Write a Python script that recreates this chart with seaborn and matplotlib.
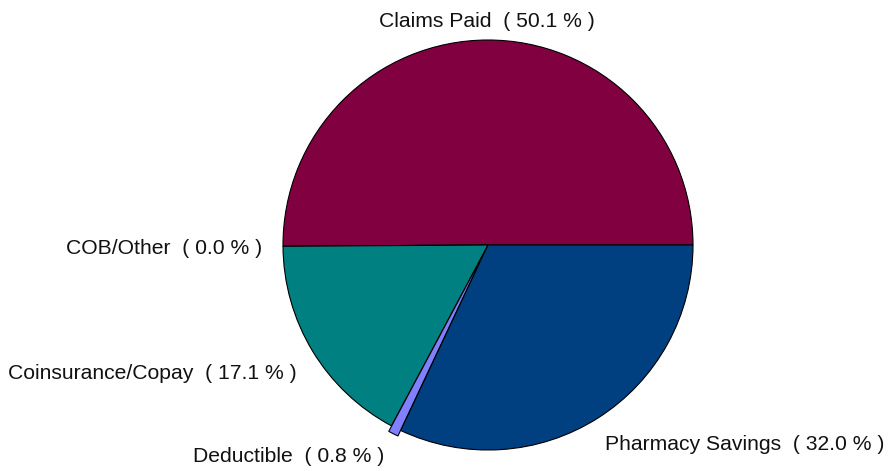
import matplotlib
matplotlib.use("Agg")
import matplotlib.pyplot as plt
import seaborn as sns

sns.set_theme(style="white")
plt.rcParams['font.family'] = ['Liberation Sans', 'DejaVu Sans']

# wedge data, counterclockwise from 3 o'clock
categories = ['Claims Paid', 'COB/Other', 'Coinsurance/Copay', 'Deductible', 'Pharmacy Savings']
shares = [50.1, 0.0, 17.1, 0.8, 32.0]
colors = ['#800040', '#8080FF', '#008080', '#8080FF', '#004080']
explode = [0, 0, 0, 0.03, 0]

labels = [f"{c}  ( {v:.1f} % )" for c, v in zip(categories, shares)]

fig = plt.figure(figsize=(8.9, 4.71), dpi=100)
ax = fig.add_axes([0, 0, 1, 1])
wedges, texts = ax.pie(shares, labels=labels, colors=colors, explode=explode,
                       startangle=0, counterclock=True, labeldistance=1.1,
                       wedgeprops=dict(edgecolor='black', linewidth=0.8),
                       textprops=dict(fontsize=15.2, color='#111111'))

# nudge labels a bit (in radius units) to sit like the original
nudges = [(0, -0.01), (0, -0.01), (0.01, -0.06), (0, -0.02), (-0.02, -0.045)]
for t, (dx, dy) in zip(texts, nudges):
    x, y = t.get_position()
    t.set_position((x + dx, y + dy))
texts[0].set_ha('center')

ax.set_xlim(-488 / 205, (890 - 488) / 205)
ax.set_ylim(-(471 - 245) / 205, 245 / 205)
ax.set_aspect('equal')
ax.axis('off')

fig.savefig('out.png', dpi=100)
